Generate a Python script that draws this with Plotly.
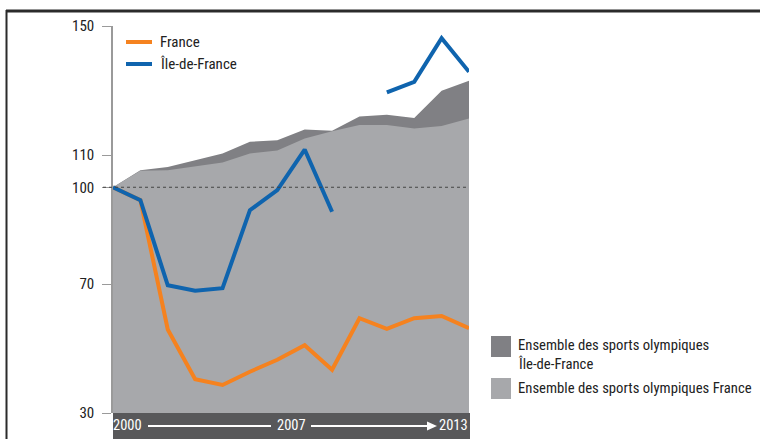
import plotly.graph_objects as go

years = list(range(2000, 2014))
france = [100, 96, 55.9, 40.5, 38.7, 42.8, 46.5, 51.0, 43.4, 59.4, 56.1, 59.4, 60.1, 56.3]
idf = [100, 96, 69.6, 67.9, 68.7, 92.9, 99.1, 111.7, 92.4, None, 129.4, 132.7, 146.2, 135.8]
sports_fr = [100, 105.1, 105.3, 106.6, 107.7, 110.5, 111.4, 115.1, 117.4, 119.3, 119.3, 118.2, 119.0, 121.3]
sports_idf = [100, 105.3, 106.3, 108.4, 110.5, 114.1, 114.6, 117.9, 117.5, 121.9, 122.5, 121.5, 129.9, 133.0]
ytick_vals = [30, 70, 100, 110, 150]
bar_labels = ["2000", "2007", "2013"]

FONT = "Liberation Sans Narrow, Roboto Condensed, Arial Narrow, Roboto, sans-serif"
C_LIGHT = "#a7a8ab"
C_DARK = "#808084"
C_OR = "#f5821f"
C_BL = "#0f64ae"
C_BAR = "#58585a"

W, H = 760, 439
L, R, T, B = 113, 291, 26, 26
pw, ph = W - L - R, H - T - B

def px(x):
    return (x - L) / pw

def py(y):
    return (H - B - y) / ph

fig = go.Figure()
fig.add_trace(go.Scatter(x=years, y=sports_idf, mode="lines", line=dict(width=0, color=C_DARK),
                         fill="tozeroy", fillcolor=C_DARK, showlegend=False, hoverinfo="skip"))
fig.add_trace(go.Scatter(x=years, y=sports_fr, mode="lines", line=dict(width=0, color=C_LIGHT),
                         fill="tozeroy", fillcolor=C_LIGHT, showlegend=False, hoverinfo="skip"))
fig.add_trace(go.Scatter(x=years, y=france, mode="lines", line=dict(width=4, color=C_OR),
                         showlegend=False))
fig.add_trace(go.Scatter(x=years, y=idf, mode="lines", line=dict(width=4, color=C_BL),
                         showlegend=False, connectgaps=False))

shapes = []
# dotted reference line at 100
shapes.append(dict(type="line", xref="paper", yref="y", x0=px(103), x1=1, y0=100, y1=100,
                   line=dict(color="#444", width=1, dash="dot"), layer="above"))
# bottom dark bar
shapes.append(dict(type="rect", xref="paper", yref="paper", x0=0, x1=px(470), y0=py(H), y1=0,
                   fillcolor=C_BAR, line=dict(width=0), layer="above"))
# arrows in bar
shapes.append(dict(type="line", xref="paper", yref="paper", x0=px(148), x1=px(271), y0=py(426), y1=py(426),
                   line=dict(color="white", width=2)))
shapes.append(dict(type="line", xref="paper", yref="paper", x0=px(311), x1=px(428), y0=py(426), y1=py(426),
                   line=dict(color="white", width=2)))
shapes.append(dict(type="path", xref="paper", yref="paper",
                   path=f"M {px(427)} {py(421.5)} L {px(437)} {py(426)} L {px(427)} {py(430.5)} Z",
                   fillcolor="white", line=dict(width=0)))
# frame lines
shapes.append(dict(type="line", xref="paper", yref="paper", x0=px(6), x1=px(760), y0=py(11), y1=py(11),
                   line=dict(color="#2b2b2b", width=3)))
shapes.append(dict(type="line", xref="paper", yref="paper", x0=px(6.5), x1=px(6.5), y0=py(10), y1=py(439),
                   line=dict(color="#2b2b2b", width=2)))
# top legend lines
shapes.append(dict(type="line", xref="paper", yref="paper", x0=px(126), x1=px(152), y0=py(42), y1=py(42),
                   line=dict(color=C_OR, width=4)))
shapes.append(dict(type="line", xref="paper", yref="paper", x0=px(126), x1=px(152), y0=py(64), y1=py(64),
                   line=dict(color=C_BL, width=4)))
# bottom-right legend squares
shapes.append(dict(type="rect", xref="paper", yref="paper", x0=px(491), x1=px(511), y0=py(357), y1=py(336),
                   fillcolor=C_DARK, line=dict(width=0)))
shapes.append(dict(type="rect", xref="paper", yref="paper", x0=px(491), x1=px(511), y0=py(399), y1=py(378),
                   fillcolor=C_LIGHT, line=dict(width=0)))

annotations = []
def txt(x, y, s, size=14, color="#222", xanchor="left"):
    annotations.append(dict(xref="paper", yref="paper", x=px(x), y=py(y), text=s, showarrow=False,
                            xanchor=xanchor, yanchor="middle", xshift=-2 if xanchor == "left" else 0,
                            font=dict(family=FONT, size=size, color=color)))

txt(160, 42, "France", 15)
txt(160, 64, "Île-de-France", 15)
txt(518, 345, "Ensemble des sports olympiques", 14.7)
txt(518, 364, "Île-de-France", 14.7)
txt(518, 388, "Ensemble des sports olympiques France", 14.7)
txt(113, 426, bar_labels[0], 14.5, "white", "left")
txt(291, 426, bar_labels[1], 14.5, "white", "center")
txt(470, 426, bar_labels[2], 14.5, "white", "right")

fig.update_layout(
    width=W, height=H, margin=dict(l=L, r=R, t=T, b=B, pad=0),
    paper_bgcolor="white", plot_bgcolor="white",
    shapes=shapes, annotations=annotations,
    xaxis=dict(range=[2000, 2013], showgrid=False, zeroline=False, showticklabels=False,
               ticks="", showline=False, fixedrange=True),
    yaxis=dict(range=[30, 150], tickvals=ytick_vals, ticktext=[str(v) for v in ytick_vals],
               showgrid=False, zeroline=False, showline=True, linecolor="#9a9a9a", linewidth=1.5,
               ticks="outside", ticklen=9, tickcolor="#9a9a9a", tickwidth=1, ticklabelstandoff=5,
               tickfont=dict(family=FONT, size=15, color="#222"), fixedrange=True),
    showlegend=False,
)

fig.write_html("out.html", config={"displayModeBar": False},
               post_script="document.body.style.margin='0';document.body.style.overflow='hidden';")
